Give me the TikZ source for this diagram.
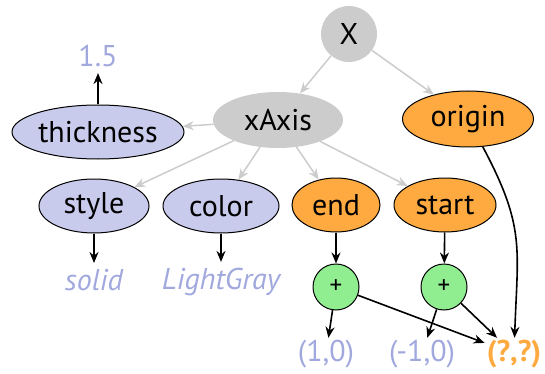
\documentclass[tikz,border=0pt]{standalone}
\usepackage{fontspec}
\setmainfont{PT Sans}
\usetikzlibrary{shapes.geometric}
\usetikzlibrary{arrows.meta}

\definecolor{lavfill}{RGB}{201,203,236}
\definecolor{lavtext}{RGB}{160,168,222}
\definecolor{orangefill}{RGB}{255,170,64}
\definecolor{greyfill}{RGB}{204,204,204}
\definecolor{plusfill}{RGB}{144,238,144}

\begin{document}
\begin{tikzpicture}[x=1pt, y=-1pt, font=\fontsize{30}{36}\selectfont]

\tikzstyle{propnode}=[ellipse, draw=black, line width=1pt, fill=lavfill,
inner sep=0pt, minimum height=54pt]
\tikzstyle{pointnode}=[propnode, fill=orangefill]
\tikzstyle{objnode}=[ellipse, fill=greyfill, inner sep=0pt, minimum height=56pt]
\tikzstyle{plusnode}=[circle, draw=black, line width=1pt, fill=plusfill,
minimum size=46pt, inner sep=0pt, font=\fontsize{25}{30}\selectfont]
\tikzstyle{valnode}=[text=lavtext, inner sep=6pt]
\tikzstyle{memberedge}=[draw=greyfill, line width=1.5pt, -{Stealth[length=11pt,width=9pt]}]
\tikzstyle{valueedge}=[draw=black, line width=1.6pt, -{Stealth[length=11pt,width=9pt]}]

\useasboundingbox (0,0) rectangle (545,374);

\node[objnode, circle, minimum size=56pt] (X) at (349,34) {X};
\node[objnode, minimum width=130pt] (xAxis) at (278,120) {xAxis};
\node[pointnode, minimum width=131pt, minimum height=56pt] (origin) at (468,119) {origin};
\node[propnode, minimum width=172pt] (thickness) at (98,132) {thickness};
\node[propnode, minimum width=110pt] (style) at (94,206) {style};
\node[propnode, minimum width=116pt] (color) at (221,206) {color};
\node[pointnode, minimum width=88pt] (end) at (336,205) {end};
\node[pointnode, minimum width=102pt] (start) at (445,205) {start};
\node[plusnode] (endplus) at (336,287) {+};
\node[plusnode] (startplus) at (444,287) {+};

% values
\node[valnode] (thicknessval) at (98,56) {1.5};
\node[valnode] (styleval) at (94,280) {\itshape solid};
\node[valnode] (colorval) at (221,282) {\itshape LightGray};
\node[valnode, inner sep=2pt] (endval) at (326,354) {(1,0)};
\node[valnode, inner sep=2pt] (startval) at (422,354) {(-1,0)};
\node[valnode, inner sep=2pt, text=orangefill] (originval) at (514,354) {\bfseries (?,?)};

\draw[memberedge] (X) -- (xAxis);
\draw[memberedge] (X) -- (origin);
\foreach \p in {thickness,style,color,end,start}
	\draw[memberedge] (xAxis) -- (\p);

\draw[valueedge] (thickness) -- (thicknessval);
\draw[valueedge] (style) -- (styleval);
\draw[valueedge] (color) -- (colorval);
\draw[valueedge] (end) -- (endplus);
\draw[valueedge] (start) -- (startplus);
\draw[valueedge] (endplus) -- (endval);
\draw[valueedge] (endplus) -- (originval);
\draw[valueedge] (startplus) -- (startval);
\draw[valueedge] (startplus) -- (originval);
\draw[valueedge] (origin) to[out=-62,in=88,looseness=1.2] (originval);
\end{tikzpicture}
\end{document}
